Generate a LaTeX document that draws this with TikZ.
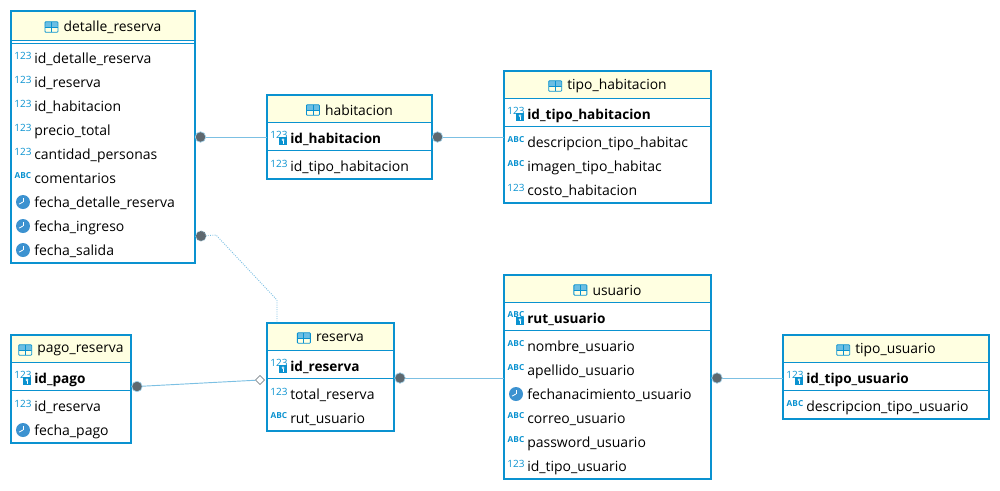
\documentclass[tikz,border=0pt]{standalone}
\usepackage{fontspec}
\setmainfont{Open Sans}
\usetikzlibrary{calc,shapes.geometric,positioning}
\definecolor{tblblue}{HTML}{0A92D0}
\definecolor{linkblue}{HTML}{7CC0E3}
\definecolor{headcream}{HTML}{FFFFE1}
\definecolor{dotgrey}{HTML}{5E686F}
\definecolor{clockblue}{HTML}{3C92D0}
\def\px{0.75pt}
\tikzset{
     tblbox/.style 2 args = {draw=tblblue, line width=1.6pt, anchor=north west, outer sep=0pt,
                             minimum width=#1*\px, minimum height=#2*\px},
     tblhead/.style 2 args = {fill=headcream, anchor=north west, outer sep=0pt, inner sep=0pt,
                              minimum width=#1*\px, minimum height=#2*\px},
     tblkey/.style 2 args = {draw=tblblue, line width=0.7pt, below=0pt of #1, outer sep=0pt, inner sep=0pt,
                             minimum width=#2*\px, minimum height=28*\px},
     tbltitle/.style = {font=\fontsize{10.4}{12}\selectfont, xshift=9.5*\px, yshift=-1.5*\px, inner sep=0pt},
     tblicon/.style = {draw=tblblue, line width=0.6pt, rounded corners=0.6pt, inner sep=0pt, left=5*\px of #1,
                       minimum width=13*\px, minimum height=10.5*\px,
                       path picture={
                         \fill[tblblue!60] (path picture bounding box.north west) rectangle (path picture bounding box.east);
                         \draw[tblblue, line width=0.6pt] (path picture bounding box.west) -- (path picture bounding box.east);
                         \draw[tblblue, line width=0.6pt] (path picture bounding box.south) -- (path picture bounding box.north);
                       }},
     rowtext/.style = {font=\fontsize{10.5}{12}\selectfont, anchor=west, inner sep=0pt, text height=9.5pt, text depth=0.6pt},
     keytext/.style = {rowtext, font=\fontsize{10.2}{12}\selectfont\bfseries},
     numicon/.style = {font=\fontsize{7.5}{8}\selectfont, text=tblblue, inner sep=0pt, node contents=123, yshift=2*\px},
     abcicon/.style = {font=\fontsize{6.2}{7}\selectfont\bfseries, text=tblblue, inner sep=0pt, node contents=ABC, yshift=2*\px},
     clockicon/.style = {circle, fill=clockblue, inner sep=0pt, minimum size=14*\px, node contents={},
                         path picture={
                           \draw[white, line width=0.6pt] (path picture bounding box.center) -- ++(0,3.2pt);
                           \draw[white, line width=0.6pt] (path picture bounding box.center) -- ++(-3pt,-1.6pt);
                         }},
     keybadge/.style = {fill=tblblue, inner sep=0pt, minimum size=8*\px, node contents={},
                        path picture={
                          \draw[white, line width=0.4pt] ($(path picture bounding box.center)+(0,0.9pt)$) circle (0.8pt);
                          \draw[white, line width=0.4pt] (path picture bounding box.center) -- ++(0,-1.9pt);
                        }},
     linkdot/.style = {circle, fill=dotgrey, draw=linkblue!70, line width=0.5pt, inner sep=0pt, minimum size=10.5*\px},
     linkopen/.style = {diamond, draw=dotgrey, fill=white, line width=0.4pt, inner sep=0pt, minimum size=9*\px},
     linkline/.style = {draw=linkblue, line width=0.7pt},
     linkdots/.style = {linkline, densely dotted},
}
\begin{document}
\begin{tikzpicture}[x=\px, y=-\px]
            \useasboundingbox (0,0) rectangle (1000,490);

            \node [tblhead={184}{29}] (dr) at (11,11) {};
            \node [tbltitle] (drt) at (dr.center) {detalle\_reserva};
            \node [tblicon=drt] (dri) {};
            \node [tblkey={dr}{184}, minimum height=3*\px] (drk) {};
            \foreach \y/\ic/\t in {58/numicon/id\_detalle\_reserva, 82/numicon/id\_reserva, 106/numicon/id\_habitacion,
                                   130/numicon/precio\_total, 154/numicon/cantidad\_personas, 178/abcicon/comentarios,
                                   202/clockicon/fecha\_detalle\_reserva, 226/clockicon/fecha\_ingreso, 250/clockicon/fecha\_salida}
            {
              \node (dra\y) at (23,\y) [\ic];
              \node [rowtext] (drr\y) at (34,\y) {\t};
            }
            \node [tblbox={184}{252}] (detalle) at (11,11) {};

            \node [tblhead={165}{27}] (ha) at (267,95) {};
            \node [tbltitle] (hat) at (ha.center) {habitacion};
            \node [tblicon=hat] (hai) {};
            \node [tblkey={ha}{165}] (hak) {};
            \node (haa) at (279,137) [numicon];
            \node (hab) at (283,141) [keybadge];
            \node [keytext] (har) at (290,138) {id\_habitacion};
            \node (hac) at (279,166) [numicon];
            \node [rowtext] (has) at (290,166) {id\_tipo\_habitacion};
            \node [tblbox={165}{84}] (habitacion) at (267,95) {};

            \node [tblhead={207}{27}] (th) at (504,71) {};
            \node [tbltitle] (tht) at (th.center) {tipo\_habitacion};
            \node [tblicon=tht] (thi) {};
            \node [tblkey={th}{207}] (thk) {};
            \node (tha) at (516,113) [numicon];
            \node (thb) at (520,117) [keybadge];
            \node [keytext] (thr) at (527,114) {id\_tipo\_habitacion};
            \foreach \y/\ic/\t in {142/abcicon/descripcion\_tipo\_habitac, 166/abcicon/imagen\_tipo\_habitac, 190/numicon/costo\_habitacion}
            {
              \node (tha\y) at (516,\y) [\ic];
              \node [rowtext] (thr\y) at (527,\y) {\t};
            }
            \node [tblbox={207}{132}] (tipohab) at (504,71) {};

            \node [tblhead={207}{27}] (us) at (504,275) {};
            \node [tbltitle] (ust) at (us.center) {usuario};
            \node [tblicon=ust] (usi) {};
            \node [tblkey={us}{207}] (usk) {};
            \node (usa) at (516,317) [abcicon];
            \node (usb) at (520,321) [keybadge];
            \node [keytext] (usr) at (527,318) {rut\_usuario};
            \foreach \y/\ic/\t in {346/abcicon/nombre\_usuario, 370/abcicon/apellido\_usuario, 394/clockicon/fechanacimiento\_usuario,
                                   418/abcicon/correo\_usuario, 442/abcicon/password\_usuario, 466/numicon/id\_tipo\_usuario}
            {
              \node (usa\y) at (516,\y) [\ic];
              \node [rowtext] (usr\y) at (527,\y) {\t};
            }
            \node [tblbox={207}{204}] (usuario) at (504,275) {};

            \node [tblhead={127}{27}] (re) at (267,323) {};
            \node [tbltitle] (ret) at (re.center) {reserva};
            \node [tblicon=ret] (rei) {};
            \node [tblkey={re}{127}] (rek) {};
            \node (rea) at (279,365) [numicon];
            \node (reb) at (283,369) [keybadge];
            \node [keytext] (rer) at (290,366) {id\_reserva};
            \foreach \y/\ic/\t in {394/numicon/total\_reserva, 418/abcicon/rut\_usuario}
            {
              \node (rea\y) at (279,\y) [\ic];
              \node [rowtext] (rer\y) at (290,\y) {\t};
            }
            \node [tblbox={127}{108}] (reserva) at (267,323) {};

            \node [tblhead={120}{27}] (pa) at (11,335) {};
            \node [tbltitle] (pat) at (pa.center) {pago\_reserva};
            \node [tblicon=pat] (pai) {};
            \node [tblkey={pa}{120}] (pak) {};
            \node (paa) at (23,377) [numicon];
            \node (pab) at (27,381) [keybadge];
            \node [keytext] (par) at (34,378) {id\_pago};
            \foreach \y/\ic/\t in {406/numicon/id\_reserva, 430/clockicon/fecha\_pago}
            {
              \node (paa\y) at (23,\y) [\ic];
              \node [rowtext] (par\y) at (34,\y) {\t};
            }
            \node [tblbox={120}{108}] (pago) at (11,335) {};

            \node [tblhead={206}{27}] (tu) at (783,335) {};
            \node [tbltitle] (tut) at (tu.center) {tipo\_usuario};
            \node [tblicon=tut] (tui) {};
            \node [tblkey={tu}{206}] (tuk) {};
            \node (tua) at (795,377) [numicon];
            \node (tub) at (799,381) [keybadge];
            \node [keytext] (tur) at (806,378) {id\_tipo\_usuario};
            \node (tuc) at (795,406) [abcicon];
            \node [rowtext] (tus) at (806,406) {descripcion\_tipo\_usuario};
            \node [tblbox={206}{84}] (tipousu) at (783,335) {};

            \coordinate (bendA) at (216,235);
            \coordinate (bendB) at (277,300);
            \node [linkopen] (open) at (260,380) {};
            \draw[linkline] (200.5,137) node [linkdot] (dotA) {} -- (dotA -| habitacion.west);
            \draw[linkline] (437.5,137) node [linkdot] (dotB) {} -- (dotB -| tipohab.west);
            \draw[linkline] (400,378) node [linkdot] (dotC) {} -- (dotC -| usuario.west);
            \draw[linkline] (717,378) node [linkdot] (dotD) {} -- (dotD -| tipousu.west);
            \draw[linkline] (137,386.5) node [linkdot] (dotE) {} -- (open);
            \draw[linkdots] (201,236) node [linkdot] (dotF) {} -- (bendA) -- (bendB) -- (bendB |- reserva.north);
\end{tikzpicture}
\end{document}
